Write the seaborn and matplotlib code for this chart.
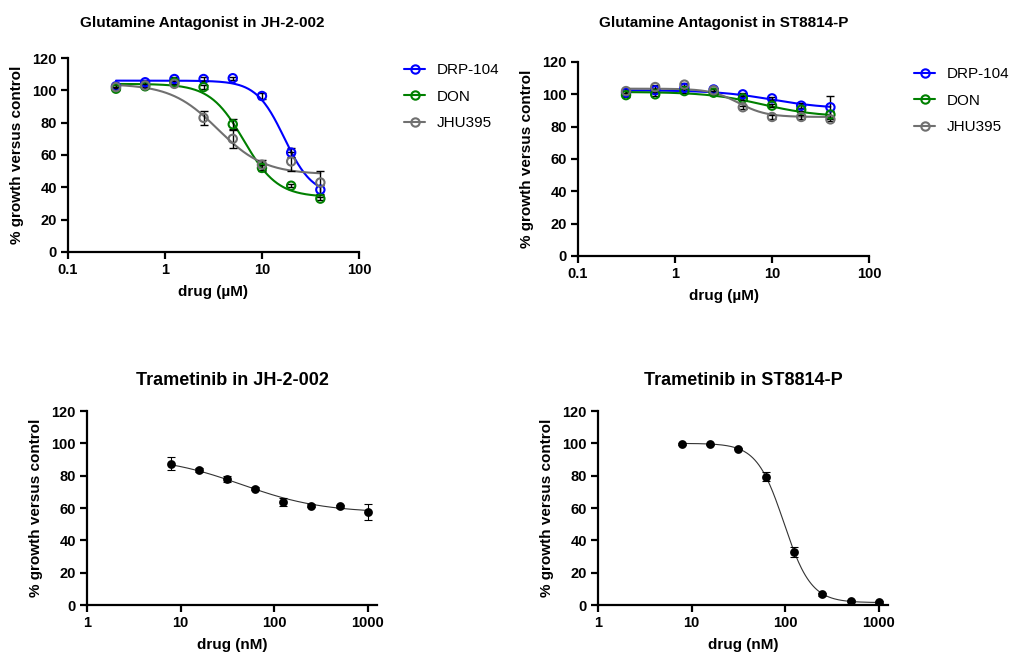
import numpy as np
import pandas as pd
import seaborn as sns
import matplotlib
matplotlib.use("Agg")
import matplotlib.pyplot as plt
from matplotlib.lines import Line2D

# ---------- data ----------
glut_conc = [0.3125, 0.625, 1.25, 2.5, 5, 10, 20, 40]          # uM
tram_conc = [7.8125, 15.625, 31.25, 62.5, 125, 250, 500, 1000]  # nM

drugs = ["DRP-104", "DON", "JHU395"]
drug_colors = ["#0000ff", "#008000", "#707070"]

# JH-2-002, glutamine antagonists
jh_drp = [102.5, 105, 107, 107, 107.5, 96.5, 61.5, 38.5]
jh_don = [101, 102.5, 105, 102, 79, 52, 41, 33]
jh_jhu = [102, 103, 104, 83, 70, 54, 56, 43]
jh_drp_err = [1, 1, 1, 1, 1, 2, 3, 3]
jh_don_err = [1, 1, 1, 1, 3, 2, 1, 1]
jh_jhu_err = [1, 1, 1, 4.5, 5.5, 3, 6, 7]

# ST8814-P, glutamine antagonists
st_drp = [101, 102.5, 104, 103, 100, 97.5, 93, 92]
st_don = [99.5, 100, 102, 101, 97.5, 93, 90.5, 87.5]
st_jhu = [102, 104.5, 106, 102.5, 92, 86, 86, 84.5]
st_drp_err = [1, 1, 1, 1, 1, 1, 1.5, 7]
st_don_err = [1, 1, 1, 1, 1, 1, 1, 2]
st_jhu_err = [1, 1, 1, 1, 1, 1.5, 1, 1]

# trametinib
tram_jh = [87.5, 83.5, 78, 72, 64, 61.5, 61, 57.5]
tram_jh_err = [3.8, 1, 2, 1, 2.5, 1, 1, 5]
tram_st = [99.7, 99.3, 96.8, 79.5, 32.7, 6.6, 2.3, 1.9]
tram_st_err = [0.5, 0.5, 0.5, 3, 3, 1, 0.5, 0.5]

# 4PL fit parameters (top, bottom, EC50, hill) estimated from the drawn curves
jh_fits = [(106, 35, 17, 3.0), (104, 34, 6.5, 2.5), (104, 48, 3.5, 1.8)]
st_fits = [(102.5, 91, 10, 1.5), (101.5, 86, 8, 1.5), (103.5, 86, 4.5, 3.0)]
tram_jh_fit = (92, 57, 45, 1.0)
tram_st_fit = (100, 1.5, 97, 3.0)


def four_pl(x, top, bottom, ec50, hill):
    return bottom + (top - bottom) / (1 + (x / ec50) ** hill)


sns.set_theme(style="ticks")
plt.rcParams["font.family"] = ["Liberation Sans", "DejaVu Sans"]
plt.rcParams.update({"text.color": "black", "axes.labelcolor": "black",
                     "xtick.color": "black", "ytick.color": "black",
                     "axes.titlecolor": "black"})

fig = plt.figure(figsize=(10.1, 6.54), dpi=100)
ax_tl = fig.add_axes([0.0673, 0.6147, 0.2881, 0.2966])
ax_tr = fig.add_axes([0.5723, 0.6086, 0.2881, 0.2966])
ax_bl = fig.add_axes([0.0861, 0.0749, 0.2871, 0.2966])
ax_br = fig.add_axes([0.5920, 0.0749, 0.2871, 0.2966])


def style_axis(ax, xlim, xticks, xlabels, unit):
    ax.set_xscale("log")
    ax.set_xlim(*xlim)
    ax.set_ylim(0, 120)
    ax.set_yticks(range(0, 121, 20))
    ax.set_xticks(xticks)
    ax.set_xticklabels(xlabels)
    ax.xaxis.set_minor_locator(matplotlib.ticker.NullLocator())
    for s in ["top", "right"]:
        ax.spines[s].set_visible(False)
    for s in ["left", "bottom"]:
        ax.spines[s].set_linewidth(1.6)
        ax.spines[s].set_color("black")
    ax.tick_params(axis="both", direction="out", length=5, width=1.6,
                   color="black", labelcolor="black", pad=3, labelsize=10.5)
    for lab in ax.get_xticklabels() + ax.get_yticklabels():
        lab.set_fontweight("bold")
    ax.set_xlabel(f"drug ({unit})", fontsize=11, fontweight="bold", labelpad=6)
    ax.set_ylabel("% growth versus control", fontsize=11, fontweight="bold", labelpad=6)


def glut_panel(ax, values, errs, fits, title, title_pad, title_x):
    grid = np.logspace(np.log10(glut_conc[0]), np.log10(glut_conc[-1]), 200)
    for name, col, vals, err, fit in zip(drugs, drug_colors, values, errs, fits):
        curve = pd.DataFrame({"x": grid, "y": four_pl(grid, *fit)})
        sns.lineplot(data=curve, x="x", y="y", ax=ax, color=col, lw=1.5, zorder=2)
        ax.errorbar(glut_conc, vals, yerr=err, fmt="none", ecolor="black",
                    elinewidth=1, capsize=3, capthick=1, zorder=3)
        pts = pd.DataFrame({"x": glut_conc, "y": vals})
        sns.scatterplot(data=pts, x="x", y="y", ax=ax, marker="o", s=36,
                        facecolor="none", edgecolor=col, linewidth=1.5, zorder=4)
    style_axis(ax, (0.1, 100), [0.1, 1, 10, 100], ["0.1", "1", "10", "100"], "µM")
    ax.set_title(title, fontsize=11, fontweight="bold", pad=title_pad, x=title_x)
    handles = [Line2D([], [], color=c, lw=1.5, marker="o", markersize=6,
                      markerfacecolor="none", markeredgewidth=1.5) for c in drug_colors]
    leg = ax.legend(handles, drugs, loc="upper left", bbox_to_anchor=(1.155, 0.975),
                    frameon=False, borderaxespad=0, borderpad=0, fontsize=11,
                    handlelength=1.4, handletextpad=0.72, labelspacing=0.83)
    for t in leg.get_texts():
        t.set_color("black")


def tram_panel(ax, vals, err, fit, title):
    grid = np.logspace(np.log10(tram_conc[0]), np.log10(tram_conc[-1]), 200)
    curve = pd.DataFrame({"x": grid, "y": four_pl(grid, *fit)})
    sns.lineplot(data=curve, x="x", y="y", ax=ax, color="#333333", lw=0.8, zorder=2)
    ax.errorbar(tram_conc, vals, yerr=err, fmt="none", ecolor="black",
                elinewidth=0.8, capsize=3, capthick=0.8, zorder=3)
    pts = pd.DataFrame({"x": tram_conc, "y": vals})
    sns.scatterplot(data=pts, x="x", y="y", ax=ax, marker="o", s=40,
                    color="black", edgecolor="black", linewidth=0, zorder=4)
    style_axis(ax, (1, 1250), [1, 10, 100, 1000], ["1", "10", "100", "1000"], "nM")
    ax.set_title(title, fontsize=13, fontweight="bold", pad=19)


glut_panel(ax_tl, [jh_drp, jh_don, jh_jhu], [jh_drp_err, jh_don_err, jh_jhu_err],
           jh_fits, "Glutamine Antagonist in JH-2-002", 22, 0.46)
glut_panel(ax_tr, [st_drp, st_don, st_jhu], [st_drp_err, st_don_err, st_jhu_err],
           st_fits, "Glutamine Antagonist in ST8814-P", 25, 0.5)
tram_panel(ax_bl, tram_jh, tram_jh_err, tram_jh_fit, "Trametinib in JH-2-002")
tram_panel(ax_br, tram_st, tram_st_err, tram_st_fit, "Trametinib in ST8814-P")

fig.savefig("out.png", dpi=100)
